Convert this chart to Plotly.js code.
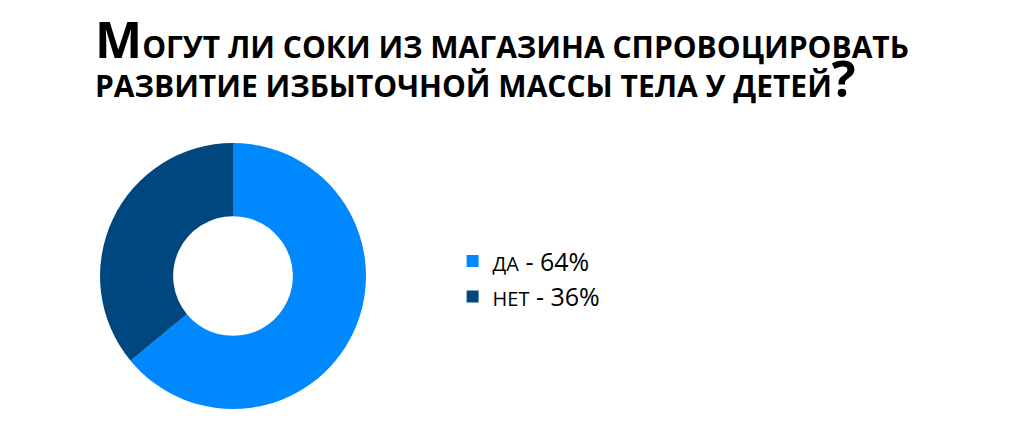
<!DOCTYPE html>
<html>
<head>
<meta charset="utf-8">
<script src="https://cdn.plot.ly/plotly-3.0.1.min.js"></script>
<style>
  html, body { margin: 0; padding: 0; background: #fff; }
  #chart { width: 1024px; height: 434px; }
</style>
</head>
<body>
<div id="chart"></div>
<script>
// данные опроса
var answers = ['ДА', 'НЕТ'];
var shares = [64, 36];
var sliceColors = ['#0088FF', '#00467F'];

var labels = answers.map(function (a, i) {
    return "<span style='font-size:20px'>" + a + "</span> - " + shares[i] + '%';
});

var trace = {
    type: 'pie',
    labels: labels,
    values: shares,
    hole: 0.45,
    sort: false,
    direction: 'clockwise',
    rotation: 0,
    textinfo: 'none',
    hoverinfo: 'label',
    marker: { colors: sliceColors, line: { width: 0 } },
    domain: { x: [0.0977, 0.3574], y: [0.0576, 0.6705] }
};

var layout = {
    width: 1024,
    height: 434,
    margin: { l: 0, r: 0, t: 0, b: 0 },
    paper_bgcolor: '#fff',
    font: { family: '"Open Sans", sans-serif', color: '#000' },
    title: {
        text: "<b><span style='font-size:50px'>М</span>ОГУТ ЛИ СОКИ ИЗ МАГАЗИНА СПРОВОЦИРОВАТЬ<br>РАЗВИТИЕ ИЗБЫТОЧНОЙ МАССЫ ТЕЛА У ДЕТЕЙ<span style='font-size:50px'>?</span></b>",
        font: { size: 30, color: '#000', family: '"Open Sans", sans-serif' },
        x: 95 / 1024,
        xref: 'container',
        xanchor: 'left',
        y: 1 - 58 / 434,
        yref: 'container',
        yanchor: 'top'
    },
    showlegend: true,
    legend: {
        x: 0.442,
        y: 0.358,
        xanchor: 'left',
        yanchor: 'middle',
        font: { size: 25, color: '#000' },
        bgcolor: 'rgba(0,0,0,0)'
    }
};

Plotly.newPlot('chart', [trace], layout, { displayModeBar: false, staticPlot: true });
</script>
</body>
</html>
